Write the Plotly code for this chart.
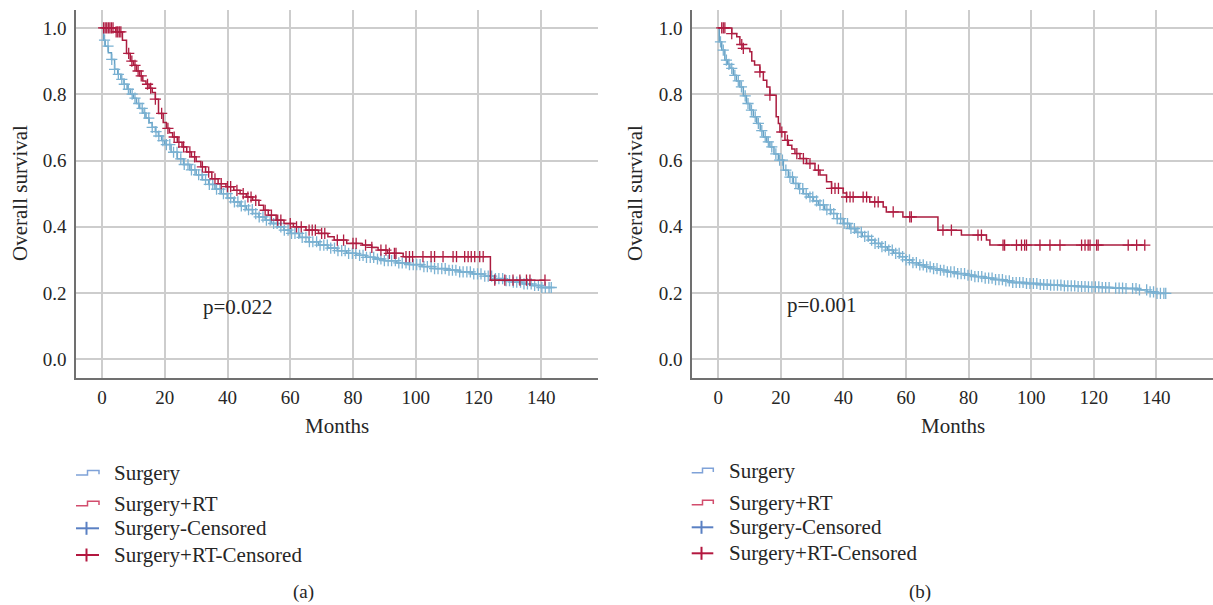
import plotly.graph_objects as go

# ---------------- data ----------------
# Panel (a)
a_surg_t = [0, 0.5, 1, 2, 3, 4, 5, 6, 7, 8, 9, 10, 11, 12, 13, 14, 15, 16, 17, 18, 19, 20, 22, 24, 26, 28, 30,
            32, 34, 36, 38, 40, 42, 44, 46, 48, 50, 52, 54, 56, 58, 60, 63, 66, 69, 72, 75, 78, 81, 84, 87, 90,
            94, 98, 102, 106, 110, 114, 118, 122, 125, 128, 131, 134, 137, 140]
a_surg_s = [1.0, 0.963, 0.945, 0.925, 0.905, 0.875, 0.86, 0.845, 0.83, 0.815, 0.80, 0.788, 0.772, 0.757, 0.743,
            0.728, 0.714, 0.70, 0.687, 0.674, 0.66, 0.648, 0.625, 0.605, 0.588, 0.572, 0.557, 0.542, 0.528, 0.514,
            0.50, 0.487, 0.475, 0.463, 0.452, 0.44, 0.43, 0.42, 0.41, 0.40, 0.39, 0.38, 0.368, 0.355, 0.345, 0.336,
            0.328, 0.32, 0.314, 0.308, 0.303, 0.298, 0.291, 0.286, 0.28, 0.274, 0.269, 0.264, 0.258, 0.251, 0.244,
            0.238, 0.233, 0.228, 0.223, 0.217]
a_surg_cens = [0.8, 1.9, 3.1, 4.0, 5.2, 6.3, 7.1, 8.4, 9.6, 10.5, 11.7, 12.8, 13.6, 14.9, 16.0, 17.2, 18.1, 19.4,
               20.5, 21.6, 22.8, 23.9, 25.1, 26.2, 27.4, 28.5, 29.6, 30.8, 31.9, 33.0, 34.2, 35.3, 36.5, 37.6,
               38.7, 39.9, 41.0, 42.2, 43.3, 44.4, 45.6, 46.7, 47.9, 49.0, 50.1, 51.3, 52.4, 53.6, 54.7, 55.8,
               57.0, 58.1, 59.3, 60.4, 61.5, 62.7, 63.8, 65.0, 66.1, 67.2, 68.4, 69.5, 70.7, 71.8, 72.9, 74.1,
               75.2, 76.4, 77.5, 78.6, 79.8, 80.9, 82.1, 83.2, 84.3, 85.5, 86.6, 87.8, 88.9, 90.0, 91.2, 92.3,
               93.5, 94.6, 95.7, 96.9, 98.0, 99.2, 100.3, 101.4, 102.6, 103.7, 104.9, 106.0, 107.1, 108.3, 109.4,
               110.6, 111.7, 112.8, 114.0, 115.1, 116.3, 117.4, 118.5, 119.7, 120.8, 122.0, 123.1, 124.2, 125.4,
               126.5, 127.7, 128.8, 129.9, 131.1, 132.2, 133.4, 134.5, 135.6, 136.8, 137.9, 139.1, 140.2, 141.3,
               142.5, 143.2]
a_rt_t = [0, 4.3, 6.5, 7.8, 9, 10, 11, 12, 13, 14, 15, 16, 17, 18, 19.5, 20.5, 21.5, 22.5, 24, 25.5, 27, 28.5,
          30, 31.5, 33, 35, 37, 39.5, 42, 44, 46, 48, 50, 51.5, 53, 55.5, 58, 61, 65, 69, 72, 74, 78, 83, 86, 88,
          91, 96, 123.8]
a_rt_s = [1.0, 0.988, 0.963, 0.923, 0.90, 0.887, 0.87, 0.855, 0.84, 0.83, 0.818, 0.805, 0.785, 0.742, 0.715,
          0.697, 0.684, 0.671, 0.655, 0.641, 0.626, 0.611, 0.597, 0.581, 0.565, 0.545, 0.53, 0.521, 0.51, 0.50,
          0.49, 0.48, 0.465, 0.45, 0.435, 0.42, 0.41, 0.40, 0.39, 0.38, 0.37, 0.36, 0.35, 0.345, 0.338, 0.33,
          0.32, 0.31, 0.239]
a_rt_cens = [0.5, 1, 1.5, 2, 2.5, 3, 3.5, 4.5, 5, 5.5, 6, 8.5, 9.5, 10.5, 11.5, 12.5, 14.5, 15.5, 17, 19, 21, 23,
             24.5, 26, 28, 29.5, 32, 34, 36, 38, 40, 41, 43, 45, 46.5, 47.5, 49, 52, 54, 56, 57, 60, 62, 63.5,
             66, 67, 68, 70, 71, 75, 77, 80, 81, 84, 86, 88.9, 90.5, 91.6, 93.2, 93.7, 96.9, 98, 99, 102.3,
             104.9, 106, 108.7, 111.9, 113, 115.6, 116.7, 117.7, 118.8, 120.4, 121.5, 125.2, 128.4, 131, 133.2,
             135.3, 136.4, 141.2]

# Panel (b)
b_surg_t = [0, 0.3, 1.1, 2.1, 3, 3.7, 4.8, 5.8, 6.9, 8, 9, 10.1, 11.2, 12.3, 13.4, 14.4, 15.5, 16.5, 17.8, 19.2,
            20.8, 22.4, 24, 25.6, 27.2, 28.8, 30.4, 32, 34, 36, 38, 40, 42, 44, 46, 48, 50, 52, 54, 56, 58, 60,
            62, 64, 66, 68, 70, 73, 76, 79, 82, 85, 88, 91, 94, 98, 102, 106, 110, 114, 118, 122, 126, 130, 134,
            137, 140]
b_surg_s = [1.0, 0.958, 0.933, 0.903, 0.89, 0.878, 0.857, 0.84, 0.822, 0.795, 0.772, 0.752, 0.732, 0.712, 0.69,
            0.671, 0.656, 0.641, 0.62, 0.601, 0.571, 0.55, 0.531, 0.515, 0.50, 0.49, 0.478, 0.466, 0.452, 0.44,
            0.425, 0.41, 0.395, 0.383, 0.371, 0.36, 0.35, 0.34, 0.33, 0.32, 0.31, 0.30, 0.292, 0.285, 0.279,
            0.274, 0.269, 0.264, 0.259, 0.254, 0.25, 0.245, 0.241, 0.237, 0.232, 0.229, 0.226, 0.224, 0.222,
            0.22, 0.219, 0.217, 0.215, 0.214, 0.21, 0.204, 0.199]
b_surg_cens = [0.7, 1.6, 2.6, 3.4, 4.3, 5.3, 6.4, 7.4, 8.6, 9.5, 10.6, 11.8, 12.8, 13.9, 15.0, 16.0, 17.1, 18.4,
               19.6, 20.5, 21.6, 22.9, 23.7, 24.8, 26.0, 27.0, 28.1, 29.3, 30.2, 31.4, 32.5, 33.6, 34.7, 35.8,
               36.9, 38.0, 39.1, 40.2, 41.3, 42.4, 43.5, 44.6, 45.7, 46.8, 47.9, 49.0, 50.1, 51.2, 52.3, 53.4,
               54.5, 55.6, 56.7, 57.8, 58.9, 60.0, 61.1, 62.2, 63.3, 64.4, 65.5, 66.6, 67.7, 68.8, 69.9, 71.0,
               72.1, 73.2, 74.3, 75.4, 76.5, 77.6, 78.7, 79.8, 80.9, 82.0, 83.1, 84.2, 85.3, 86.4, 87.5, 88.6,
               89.7, 90.8, 91.9, 93.0, 94.1, 95.2, 96.3, 97.4, 98.5, 99.6, 100.7, 101.8, 102.9, 104.0, 105.1,
               106.2, 107.3, 108.4, 109.5, 110.6, 111.7, 112.8, 113.9, 115.0, 116.1, 117.2, 118.3, 119.4, 120.5,
               121.6, 122.7, 123.8, 124.9, 127.0, 128.1, 129.2, 130.3, 132.4, 133.5, 134.6, 136.9, 138.0, 139.1,
               140.2, 141.3, 142.4, 143.0]
b_rt_t = [0, 4.3, 5.9, 6.9, 8, 10.1, 10.7, 11.6, 13.3, 14.4, 15.5, 16.5, 18.5, 19.2, 19.7, 21.3, 22.4, 23.5, 24.5,
          26.1, 28.2, 30.9, 32.5, 34.6, 36.2, 39.9, 41, 48.4, 52.7, 53.7, 59, 70.2, 77.7, 85.7, 86.8]
b_rt_s = [1.0, 0.983, 0.973, 0.95, 0.938, 0.928, 0.90, 0.888, 0.867, 0.842, 0.822, 0.797, 0.732, 0.712, 0.686,
          0.661, 0.646, 0.635, 0.621, 0.606, 0.591, 0.571, 0.556, 0.536, 0.516, 0.502, 0.49, 0.475, 0.46, 0.445,
          0.43, 0.39, 0.375, 0.36, 0.345]
b_rt_cens = [1.1, 1.6, 2.1, 4.3, 7.5, 8.0, 13.3, 16.5, 20.3, 22.1, 25.1, 27.2, 29.3, 32, 36.2, 37.3, 38.4, 41,
             42.1, 43.1, 46.3, 47.4, 50, 51.1, 55.9, 61.2, 61.7, 71.8, 74.5, 83, 84.1, 91, 91.5, 95.3, 96.9,
             97.9, 98.5, 102.8, 106, 109.2, 116.1, 117.2, 118.2, 118.8, 120.9, 121.4, 131, 133.7, 136.3]

p_values = ["p=0.022", "p=0.001"]
p_pos = [(31.6, 0.158), (21.3, 0.163)]
x_ticks = [0, 20, 40, 60, 80, 100, 120, 140]
y_ticks = [0.0, 0.2, 0.4, 0.6, 0.8, 1.0]
legend_labels = ["Surgery", "Surgery+RT", "Surgery-Censored", "Surgery+RT-Censored"]
panel_labels = ["(a)", "(b)"]

# ---------------- styling ----------------
W, H = 1213, 605
FONT = "Liberation Serif"
TXT = "#262626"
BLUE_LINE = "#64a0c4"
BLUE_MARK = "#7ab1d2"
RED_LINE = "#ab1c3f"
RED_MARK = "#b01d42"
LEG_BLUE_STEP = "#7fa2d8"
LEG_RED_STEP = "#d24d6d"
LEG_BLUE_PLUS = "#5a80c3"
LEG_RED_PLUS = "#b3173f"
GRID = "#cdcdcd"


def step_value(ts, ss, t):
    v = ss[0]
    for ti, si in zip(ts, ss):
        if ti <= t:
            v = si
        else:
            break
    return v


def px(x):
    return x / W


def py(y):
    return 1 - y / H


fig = go.Figure()

panels = [
    dict(t_s=a_surg_t, s_s=a_surg_s, c_s=a_surg_cens, t_r=a_rt_t, s_r=a_rt_s, c_r=a_rt_cens,
         xa="x", ya="y", dom=[px(76), px(598)]),
    dict(t_s=b_surg_t, s_s=b_surg_s, c_s=b_surg_cens, t_r=b_rt_t, s_r=b_rt_s, c_r=b_rt_cens,
         xa="x2", ya="y2", dom=[px(692), 1.0]),
]

for p in panels:
    for (ts, ss, cs, lc, mc) in [(p["t_s"], p["s_s"], p["c_s"], BLUE_LINE, BLUE_MARK),
                                 (p["t_r"], p["s_r"], p["c_r"], RED_LINE, RED_MARK)]:
        end_t = max(cs)
        xs = list(ts) + [end_t]
        ys = list(ss) + [ss[-1]]
        fig.add_trace(go.Scatter(x=xs, y=ys, mode="lines", line=dict(color=lc, width=1.5, shape="hv"),
                                 xaxis=p["xa"], yaxis=p["ya"], showlegend=False, hoverinfo="skip"))
        fig.add_trace(go.Scatter(x=cs, y=[step_value(ts, ss, c) for c in cs], mode="markers",
                                 marker=dict(symbol="cross-thin", size=8, line=dict(color=mc, width=1.3)),
                                 xaxis=p["xa"], yaxis=p["ya"], showlegend=False, hoverinfo="skip"))

axis_common = dict(showgrid=True, gridcolor=GRID, gridwidth=1.5, zeroline=False, showline=True,
                   linecolor="#707070", linewidth=1.5, ticks="outside", tickcolor="rgba(0,0,0,0)",
                   tickfont=dict(family=FONT, size=19, color=TXT))
ydom = [py(378), py(10)]
layout = dict(
    width=W, height=H, margin=dict(l=0, r=0, t=0, b=0),
    paper_bgcolor="white", plot_bgcolor="white", showlegend=False,
    xaxis=dict(domain=panels[0]["dom"], range=[-8.3, 158.1], tickvals=x_ticks, ticklen=1,
               anchor="y", **axis_common),
    yaxis=dict(domain=ydom, range=[-0.056, 1.054], tickvals=y_ticks, tickformat=".1f", ticklen=4,
               anchor="x", **axis_common),
    xaxis2=dict(domain=panels[1]["dom"], range=[-8.4, 158.1], tickvals=x_ticks, ticklen=1,
                anchor="y2", **axis_common),
    yaxis2=dict(domain=ydom, range=[-0.056, 1.054], tickvals=y_ticks, tickformat=".1f", ticklen=4,
                anchor="x2", **axis_common),
)
fig.update_layout(**layout)

annotations = []
shapes = []
lab_font = dict(family=FONT, size=21, color=TXT)

# axis titles, p-values, panel labels
for i, (mx, oy, lab_x, lab_y) in enumerate([(337, 20, 303, 592), (953, 635, 920, 592)]):
    annotations.append(dict(text="Months", x=px(mx), y=py(426), xref="paper", yref="paper",
                            xanchor="center", yanchor="middle", showarrow=False, font=lab_font))
    annotations.append(dict(text="Overall survival", x=px(oy), y=py(193), xref="paper", yref="paper",
                            xanchor="center", yanchor="middle", showarrow=False, textangle=-90,
                            font=lab_font))
    annotations.append(dict(text=panel_labels[i], x=px(lab_x), y=py(lab_y), xref="paper", yref="paper",
                            xanchor="center", yanchor="middle", showarrow=False,
                            font=dict(family=FONT, size=19, color=TXT)))
    annotations.append(dict(text=p_values[i], x=p_pos[i][0], y=p_pos[i][1],
                            xref="x" if i == 0 else "x2", yref="y" if i == 0 else "y2",
                            xanchor="left", yanchor="middle", showarrow=False, font=lab_font))

# custom legends
legend_geo = [
    dict(x0=76, x1=99, xt=112, rows=[472.7, 503.5, 528.3, 555]),
    dict(x0=691.7, x1=713.3, xt=727, rows=[470.5, 502.5, 527.3, 553.3]),
]
for g in legend_geo:
    x0, x1 = g["x0"], g["x1"]
    xm = (x0 + x1) / 2
    r = g["rows"]
    for k, (col, yc) in enumerate([(LEG_BLUE_STEP, r[0]), (LEG_RED_STEP, r[1])]):
        lo, hi = yc + 2.3, yc - 2.3
        path = (f"M {px(x0)},{py(lo)} L {px(xm)},{py(lo)} L {px(xm)},{py(hi)} "
                f"L {px(x1)},{py(hi)} L {px(x1)},{py(lo - 0.8)}")
        shapes.append(dict(type="path", path=path, xref="paper", yref="paper",
                           line=dict(color=col, width=1.5)))
    for col, yc in [(LEG_BLUE_PLUS, r[2]), (LEG_RED_PLUS, r[3])]:
        shapes.append(dict(type="line", x0=px(x0), x1=px(x1), y0=py(yc), y1=py(yc), xref="paper",
                           yref="paper", line=dict(color=col, width=2)))
        shapes.append(dict(type="line", x0=px(xm - 1), x1=px(xm - 1), y0=py(yc - 6.5), y1=py(yc + 6.5),
                           xref="paper", yref="paper", line=dict(color=col, width=2)))
    for lab, yc in zip(legend_labels, r):
        annotations.append(dict(text=lab, x=px(g["xt"]), y=py(yc), xref="paper", yref="paper",
                                xanchor="left", yanchor="middle", showarrow=False, font=lab_font))

fig.update_layout(annotations=annotations, shapes=shapes)
fig.write_html("out.html", config={"displayModeBar": False},
               post_script="document.body.style.margin='0';document.body.style.overflow='hidden';")
